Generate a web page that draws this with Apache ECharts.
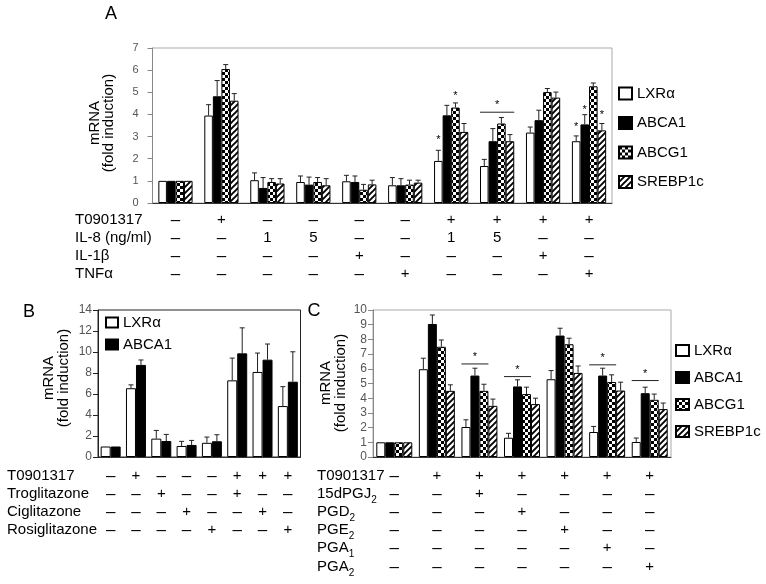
<!DOCTYPE html>
<html><head><meta charset="utf-8">
<script src="https://cdn.jsdelivr.net/npm/echarts@6/dist/echarts.min.js"></script>
<style>html,body{margin:0;padding:0;background:#fff}#c{width:766px;height:584px}</style>
</head><body><div id="c"></div>
<script>
// ---------------- Panel A data ----------------
const A_groups = ['A1','A2','A3','A4','A5','A6','A7','A8','A9','A10'];
const A_rowT0901317 = ['–','+','–','–','–','–','+','+','+','+'];
const A_rowIL8      = ['–','–','1','5','–','–','1','5','–','–'];
const A_rowIL1b     = ['–','–','–','–','+','–','–','–','+','–'];
const A_rowTNFa     = ['–','–','–','–','–','+','–','–','–','+'];
const A_LXR       = [1.0, 3.95, 1.03, 0.95, 0.98, 0.80, 1.90, 1.67, 3.18, 2.79];
const A_LXR_err   = [0, 0.49, 0.33, 0.27, 0.27, 0.35, 0.48, 0.30, 0.25, 0.24];
const A_ABCA1     = [1.0, 4.82, 0.68, 0.83, 0.95, 0.80, 3.96, 2.79, 3.74, 3.55];
const A_ABCA1_err = [0, 0.71, 0.47, 0.34, 0.27, 0.30, 0.45, 0.57, 0.45, 0.44];
const A_ABCG1     = [1.0, 6.05, 0.95, 0.95, 0.60, 0.83, 4.31, 3.59, 5.01, 5.27];
const A_ABCG1_err = [0, 0.20, 0.15, 0.20, 0.24, 0.20, 0.21, 0.27, 0.16, 0.15];
const A_SREBP     = [1.0, 4.62, 0.88, 0.80, 0.84, 0.92, 3.21, 2.79, 4.76, 3.28];
const A_SREBP_err = [0, 0.32, 0.22, 0.30, 0.19, 0.11, 0.38, 0.30, 0.25, 0.31];
// stars: [group, bar, value]; lines: [group, fromBar, toBar, value]
const A_stars = [[6,0,2.95],[6,2,4.94],[9,0,3.51],[9,1,4.31],[9,3,4.08]];
const A_lines = [[7,0,3,4.10]];
const A_ticks = [0,1,2,3,4,5,6,7];

// ---------------- Panel B data ----------------
const B_groups = ['B1','B2','B3','B4','B5','B6','B7','B8'];
const B_rowT0901317 = ['–','+','–','–','–','+','+','+'];
const B_rowTro      = ['–','–','+','–','–','+','–','–'];
const B_rowCig      = ['–','–','–','+','–','–','+','–'];
const B_rowRos      = ['–','–','–','–','+','–','–','+'];
const B_LXR       = [1.0, 6.55, 1.75, 1.05, 1.35, 7.30, 8.10, 4.85];
const B_LXR_err   = [0, 0.32, 0.78, 0.44, 0.55, 2.12, 1.80, 1.85];
const B_ABCA1     = [1.0, 8.77, 1.52, 1.15, 1.50, 9.87, 9.27, 7.17];
const B_ABCA1_err = [0, 0.47, 0.63, 0.43, 0.62, 2.43, 1.49, 2.85];

// ---------------- Panel C data ----------------
const C_groups = ['C1','C2','C3','C4','C5','C6','C7'];
const C_rowT0901317 = ['–','+','+','+','+','+','+'];
const C_row15d      = ['–','–','+','–','–','–','–'];
const C_rowPGD2     = ['–','–','–','+','–','–','–'];
const C_rowPGE2     = ['–','–','–','–','+','–','–'];
const C_rowPGA1     = ['–','–','–','–','–','+','–'];
const C_rowPGA2     = ['–','–','–','–','–','–','+'];
const C_LXR       = [1.0, 5.97, 2.04, 1.31, 5.29, 1.70, 1.02];
const C_LXR_err   = [0, 0.75, 0.49, 0.30, 0.59, 0.38, 0.27];
const C_ABCA1     = [1.0, 9.05, 5.54, 4.80, 8.26, 5.54, 4.34];
const C_ABCA1_err = [0, 0.61, 0.50, 0.45, 0.50, 0.50, 0.41];
const C_ABCG1     = [1.0, 7.50, 4.50, 4.28, 7.67, 5.10, 3.89];
const C_ABCG1_err = [0, 0.46, 0.45, 0.47, 0.41, 0.49, 0.39];
const C_SREBP     = [1.0, 4.50, 3.48, 3.60, 5.72, 4.52, 3.26];
const C_SREBP_err = [0, 0.41, 0.46, 0.40, 0.47, 0.57, 0.41];
const C_lines = [[2,0,2,6.33],[3,0,2,5.47],[5,0,2,6.27],[6,0,2,5.20]];

// ---------------- styling helpers ----------------
const FONT = '"Liberation Sans", Arial, sans-serif';
function makeChecker() {
  const c = document.createElement('canvas'); c.width = 6; c.height = 6;
  const g = c.getContext('2d');
  g.fillStyle = '#fff'; g.fillRect(0,0,6,6);
  g.fillStyle = '#000'; g.fillRect(0,0,3,3); g.fillRect(3,3,3,3);
  return c;
}
function makeDiag() {
  const c = document.createElement('canvas'); c.width = 6; c.height = 6;
  const g = c.getContext('2d');
  g.fillStyle = '#fff'; g.fillRect(0,0,6,6);
  g.strokeStyle = '#000'; g.lineWidth = 1.9;
  g.beginPath();
  g.moveTo(-1,7); g.lineTo(7,-1);
  g.moveTo(-4,4); g.lineTo(4,-4);
  g.moveTo(2,10); g.lineTo(10,2);
  g.stroke();
  return c;
}
const FILL = {
  'LXRα': '#ffffff',
  'ABCA1': '#000000',
  'ABCG1': { image: makeChecker(), repeat: 'repeat' },
  'SREBP1c': { image: makeDiag(), repeat: 'repeat' }
};

function rowAxis(grid, cats, marks, offset) {
  return {
    type: 'category', gridIndex: grid, data: cats, position: 'bottom', offset: offset,
    axisLine: { show: false }, axisTick: { show: false }, splitLine: { show: false },
    axisLabel: { interval: 0, margin: 0, verticalAlign: 'middle', fontSize: 15, fontFamily: FONT,
      color: '#000', hideOverlap: false,
      formatter: (v, i) => marks[i] === '–' ? '{d|–}' : marks[i],
      rich: { d: { fontSize: 17, fontFamily: FONT, color: '#000' } } }
  };
}
function mainAxis(grid, cats) {
  return {
    type: 'category', gridIndex: grid, data: cats, position: 'bottom',
    axisLine: { show: true, lineStyle: { color: '#333', width: 1 } },
    axisTick: { show: false }, axisLabel: { show: false }, splitLine: { show: false }
  };
}
function valAxis(grid, max, interval, lineColor, margin, fs) {
  return {
    type: 'value', gridIndex: grid, min: 0, max: max, interval: interval,
    axisLine: { show: true, lineStyle: { color: lineColor, width: 1 } },
    axisTick: { show: true, inside: false, length: 5, lineStyle: { color: lineColor } },
    axisLabel: { fontSize: fs, color: '#555', margin: margin, fontFamily: FONT },
    splitLine: { show: false }
  };
}
function bars(name, data, xi, yi, gap) {
  return {
    type: 'bar', name: name, data: data, xAxisIndex: xi, yAxisIndex: yi,
    barGap: '0%', barCategoryGap: (gap * 100) + '%',
    itemStyle: { color: FILL[name], borderColor: '#000', borderWidth: 1 },
    emphasis: { disabled: true }, silent: true, z: 2
  };
}
function barPos(api, g, b, n, gap) {
  const catW = api.size([1, 0])[0];
  const gw = catW * (1 - gap);
  const bw = gw / n;
  const left = api.coord([g, 0])[0] - gw / 2;
  return { left: left + bw * b, center: left + bw * (b + 0.5), right: left + bw * (b + 1) };
}
function errSeries(vals, errs, idx, n, gap, xi, yi) {
  return {
    type: 'custom', xAxisIndex: xi, yAxisIndex: yi, silent: true, z: 3,
    data: vals.map((v, i) => [i, v, errs[i]]),
    renderItem: function (params, api) {
      const g = api.value(0), v = api.value(1), e = api.value(2);
      if (!e) return null;
      const x = barPos(api, g, idx, n, gap).center;
      const y0 = api.coord([g, v])[1];
      const y1 = api.coord([g, v + e])[1];
      return { type: 'group', children: [
        { type: 'line', shape: { x1: x, y1: y0, x2: x, y2: y1 }, style: { stroke: '#222', lineWidth: 1 } },
        { type: 'line', shape: { x1: x - 2.5, y1: y1, x2: x + 2.5, y2: y1 }, style: { stroke: '#222', lineWidth: 1 } }
      ] };
    }
  };
}
function starSeries(stars, n, gap, xi, yi) {
  return {
    type: 'custom', xAxisIndex: xi, yAxisIndex: yi, silent: true, z: 4,
    data: stars,
    renderItem: function (params, api) {
      const g = api.value(0), b = api.value(1), v = api.value(2);
      const x = barPos(api, g, b, n, gap).center;
      const y = api.coord([g, v])[1];
      return { type: 'text', x: x, y: y + 2, style: { text: '*', fontSize: 11, fontFamily: FONT,
        fill: '#000', align: 'center', verticalAlign: 'middle' } };
    }
  };
}
function lineSeries(lines, n, gap, xi, yi) {
  return {
    type: 'custom', xAxisIndex: xi, yAxisIndex: yi, silent: true, z: 4,
    data: lines,
    renderItem: function (params, api) {
      const g = api.value(0), b0 = api.value(1), b1 = api.value(2), v = api.value(3);
      const x0 = barPos(api, g, b0, n, gap).left;
      const x1 = barPos(api, g, b1, n, gap).right;
      const y = api.coord([g, v])[1];
      return { type: 'group', children: [
        { type: 'line', shape: { x1: x0, y1: y, x2: x1, y2: y }, style: { stroke: '#222', lineWidth: 1 } },
        { type: 'text', x: (x0 + x1) / 2, y: y - 7, style: { text: '*', fontSize: 11, fontFamily: FONT,
          fill: '#000', align: 'center', verticalAlign: 'middle' } }
      ] };
    }
  };
}
function txt(text, x, y, fs, extra) {
  return Object.assign({ type: 'text', x: x, y: y, silent: true,
    style: Object.assign({ text: text, fontSize: fs, fontFamily: FONT, fill: '#000',
      align: 'left', verticalAlign: 'middle' }, (extra && extra.style) || {}) },
    (extra && extra.el) || {});
}
function subLabel(main, sub, x, y) {
  return { type: 'text', x: x, y: y, silent: true, style: {
    text: '{m|' + main + '}{s|' + sub + '}', fontFamily: FONT, fill: '#000',
    align: 'left', verticalAlign: 'middle',
    rich: { m: { fontSize: 15, fontFamily: FONT, lineHeight: 23, fill: '#000' },
            s: { fontSize: 10, fontFamily: FONT, lineHeight: 6, verticalAlign: 'bottom', fill: '#000' } } } };
}

const GAP_A = 0.255, GAP_B = 0.21, GAP_C = 0.155;

const option = {
  animation: false,
  backgroundColor: '#fff',
  textStyle: { fontFamily: FONT },
  grid: [
    { left: 152.5, top: 48, width: 459.5, height: 155, show: true, borderColor: '#aaa', borderWidth: 1, backgroundColor: 'transparent', containLabel: false, outerBoundsMode: 'none' },
    { left: 98, top: 310, width: 202.5, height: 147, show: true, borderColor: '#222', borderWidth: 1, backgroundColor: 'transparent', containLabel: false, outerBoundsMode: 'none' },
    { left: 373, top: 310, width: 298, height: 147, show: true, borderColor: '#aaa', borderWidth: 1, backgroundColor: 'transparent', containLabel: false, outerBoundsMode: 'none' }
  ],
  xAxis: [
    mainAxis(0, A_groups),
    rowAxis(0, A_groups, A_rowT0901317, 17),
    rowAxis(0, A_groups, A_rowIL8, 35),
    rowAxis(0, A_groups, A_rowIL1b, 53),
    rowAxis(0, A_groups, A_rowTNFa, 71),
    mainAxis(1, B_groups),
    rowAxis(1, B_groups, B_rowT0901317, 19),
    rowAxis(1, B_groups, B_rowTro, 37),
    rowAxis(1, B_groups, B_rowCig, 55),
    rowAxis(1, B_groups, B_rowRos, 73),
    mainAxis(2, C_groups),
    rowAxis(2, C_groups, C_rowT0901317, 19),
    rowAxis(2, C_groups, C_row15d, 37),
    rowAxis(2, C_groups, C_rowPGD2, 55),
    rowAxis(2, C_groups, C_rowPGE2, 73),
    rowAxis(2, C_groups, C_rowPGA1, 91),
    rowAxis(2, C_groups, C_rowPGA2, 110)
  ],
  yAxis: [
    valAxis(0, A_ticks[A_ticks.length - 1], 1, '#888', 14, 11),
    valAxis(1, 14, 2, '#222', 6, 12),
    valAxis(2, 10, 1, '#888', 6, 12)
  ],
  legend: [
    { left: 618, top: 86, orient: 'vertical', itemWidth: 13, itemHeight: 12, itemGap: 14.5, icon: 'rect',
      selectedMode: false, padding: 0, textStyle: { fontSize: 15, fontFamily: FONT, color: '#000' },
      data: ['LXRα', 'ABCA1', 'ABCG1', 'SREBP1c'] },
    { left: 105, top: 315, orient: 'vertical', itemWidth: 12, itemHeight: 10, itemGap: 7, icon: 'rect',
      selectedMode: false, padding: 0, textStyle: { fontSize: 15, fontFamily: FONT, color: '#000' },
      data: ['LXRα', 'ABCA1'] },
    { left: 675, top: 343, orient: 'vertical', itemWidth: 13, itemHeight: 11, itemGap: 12, icon: 'rect',
      selectedMode: false, padding: 0, textStyle: { fontSize: 15, fontFamily: FONT, color: '#000' },
      data: ['LXRα', 'ABCA1', 'ABCG1', 'SREBP1c'] }
  ],
  graphic: [
    txt('A', 111, 14, 18, { style: { align: 'center' } }),
    txt('B', 29, 312, 18, { style: { align: 'center' } }),
    txt('C', 314, 311, 18, { style: { align: 'center' } }),
    txt('mRNA\n(fold induction)', 102, 123, 15, { style: { align: 'center', lineHeight: 14 }, el: { rotation: Math.PI / 2 } }),
    txt('mRNA\n(fold induction)', 56, 378, 15, { style: { align: 'center', lineHeight: 15 }, el: { rotation: Math.PI / 2 } }),
    txt('mRNA\n(fold induction)', 333, 383, 15, { style: { align: 'center', lineHeight: 15 }, el: { rotation: Math.PI / 2 } }),
    txt('T0901317', 75, 220, 15),
    txt('IL-8 (ng/ml)', 75, 238, 15),
    txt('IL-1β', 75, 256, 15),
    txt('TNFα', 75, 274, 15),
    txt('T0901317', 7, 476, 15),
    txt('Troglitazone', 7, 494, 15),
    txt('Ciglitazone', 7, 512, 15),
    txt('Rosiglitazone', 7, 530, 15),
    txt('T0901317', 317, 476, 15),
    subLabel('15dPGJ', '2', 317, 494),
    subLabel('PGD', '2', 317, 512),
    subLabel('PGE', '2', 317, 530),
    subLabel('PGA', '1', 317, 548),
    subLabel('PGA', '2', 317, 567)
  ],
  series: [
    bars('LXRα', A_LXR, 0, 0, GAP_A),
    bars('ABCA1', A_ABCA1, 0, 0, GAP_A),
    bars('ABCG1', A_ABCG1, 0, 0, GAP_A),
    bars('SREBP1c', A_SREBP, 0, 0, GAP_A),
    errSeries(A_LXR, A_LXR_err, 0, 4, GAP_A, 0, 0),
    errSeries(A_ABCA1, A_ABCA1_err, 1, 4, GAP_A, 0, 0),
    errSeries(A_ABCG1, A_ABCG1_err, 2, 4, GAP_A, 0, 0),
    errSeries(A_SREBP, A_SREBP_err, 3, 4, GAP_A, 0, 0),
    starSeries(A_stars, 4, GAP_A, 0, 0),
    lineSeries(A_lines, 4, GAP_A, 0, 0),

    bars('LXRα', B_LXR, 5, 1, GAP_B),
    bars('ABCA1', B_ABCA1, 5, 1, GAP_B),
    errSeries(B_LXR, B_LXR_err, 0, 2, GAP_B, 5, 1),
    errSeries(B_ABCA1, B_ABCA1_err, 1, 2, GAP_B, 5, 1),

    bars('LXRα', C_LXR, 10, 2, GAP_C),
    bars('ABCA1', C_ABCA1, 10, 2, GAP_C),
    bars('ABCG1', C_ABCG1, 10, 2, GAP_C),
    bars('SREBP1c', C_SREBP, 10, 2, GAP_C),
    errSeries(C_LXR, C_LXR_err, 0, 4, GAP_C, 10, 2),
    errSeries(C_ABCA1, C_ABCA1_err, 1, 4, GAP_C, 10, 2),
    errSeries(C_ABCG1, C_ABCG1_err, 2, 4, GAP_C, 10, 2),
    errSeries(C_SREBP, C_SREBP_err, 3, 4, GAP_C, 10, 2),
    lineSeries(C_lines, 4, GAP_C, 10, 2)
  ]
};
const chart = echarts.init(document.getElementById('c'), null, { renderer: 'canvas' });
chart.setOption(option);
</script></body></html>
